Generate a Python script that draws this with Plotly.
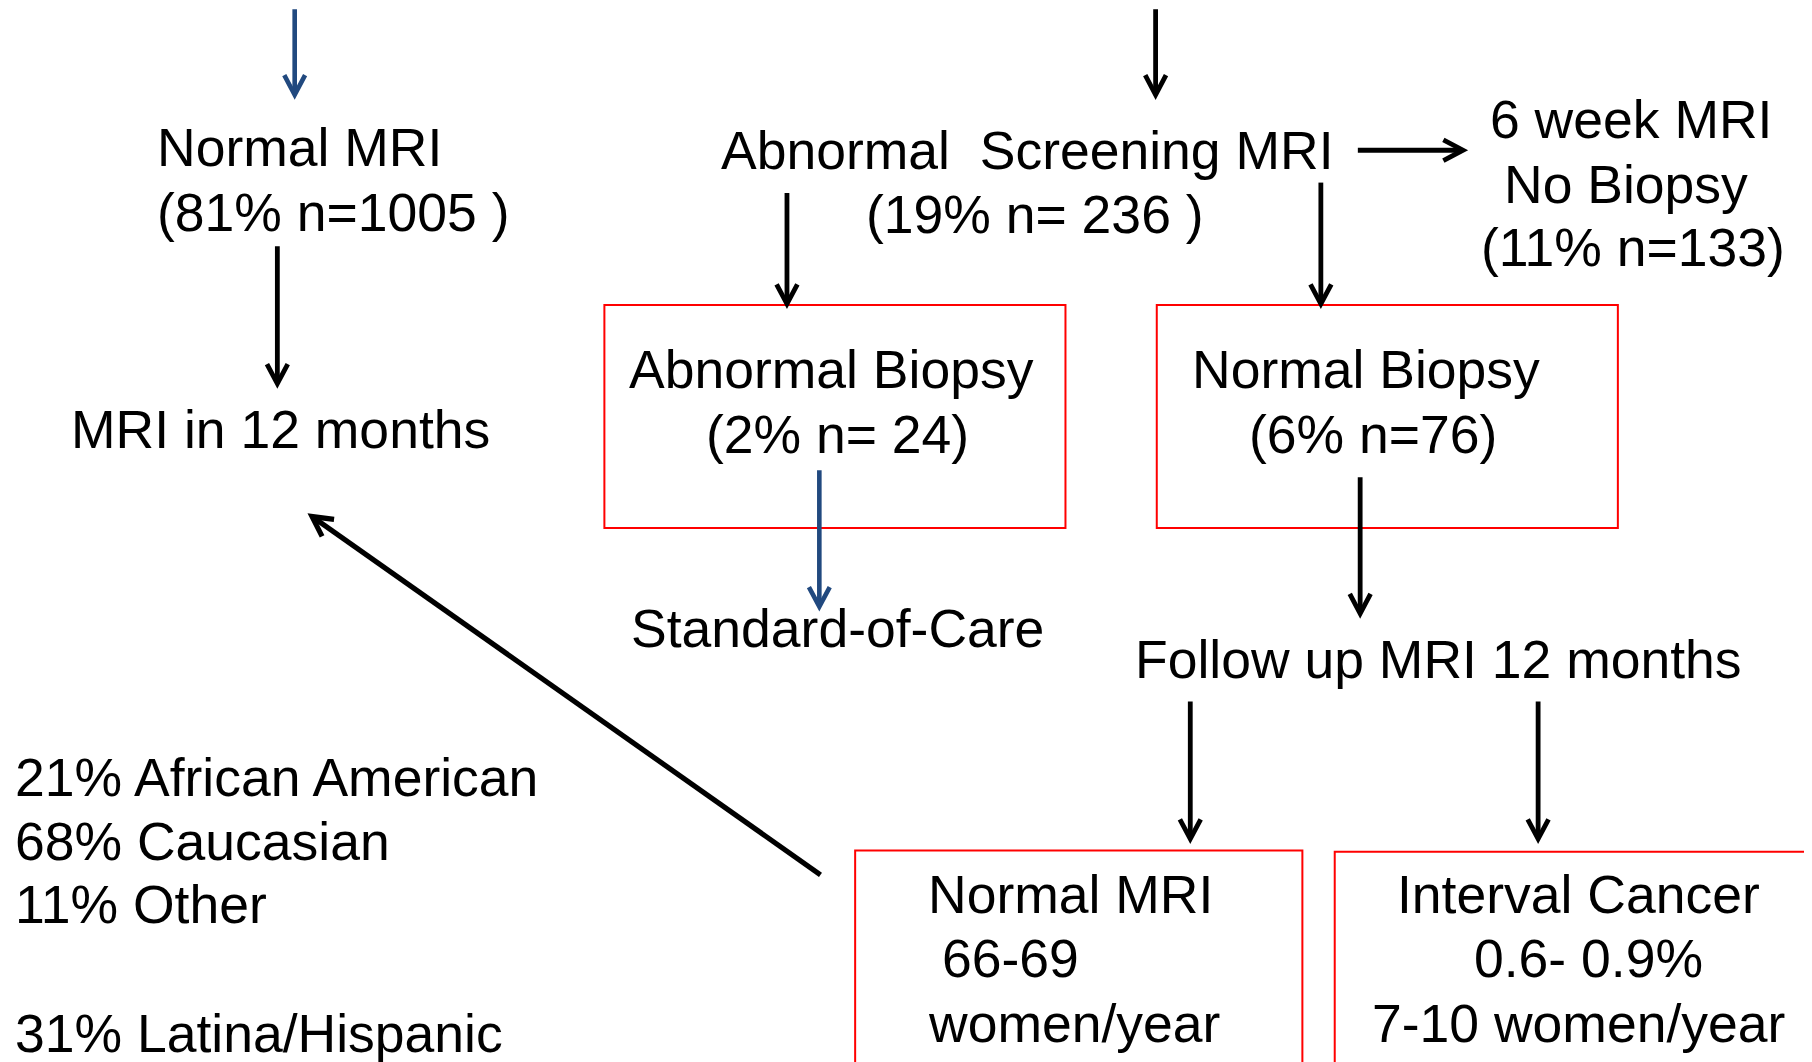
import math
import plotly.graph_objects as go

# ---- text content (data) ----
normal_mri = ["Normal MRI", "(81% n=1005 )"]
followup_normal = ["MRI in 12 months"]
abnormal_mri = ["Abnormal\u00a0 Screening MRI", "(19% n= 236 )"]
six_week = ["6 week MRI", "No Biopsy", "(11% n=133)"]
abnormal_biopsy = ["Abnormal Biopsy", "(2% n= 24)"]
normal_biopsy = ["Normal Biopsy", "(6% n=76)"]
standard_care = ["Standard-of-Care"]
followup_12 = ["Follow up MRI 12 months"]
box_normal_mri = ["Normal MRI", "66-69", "women/year"]
box_interval = ["Interval Cancer", "0.6- 0.9%", "7-10 women/year"]
race_lines = ["21% African American", "68% Caucasian", "11% Other", "31% Latina/Hispanic"]

# ---- layout positions (reference units: 1568 x 919 canvas) ----
W, H = 1568, 919
S = 1812 / 1568
OFF = 8 / S          # compensate the page's default body margin
FS = 46.3 * S
DX = -2.5

text_blocks = [
    (normal_mri, [137, 137], [128, 184]),
    (followup_normal, [62], [372]),
    (abnormal_mri, [625, 750], [130, 186]),
    (six_week, [1290, 1302, 1282], [103, 160, 214]),
    (abnormal_biopsy, [545, 612], [320, 376]),
    (normal_biopsy, [1032, 1082], [320, 376]),
    (standard_care, [547], [544]),
    (followup_12, [983], [571]),
    (box_normal_mri, [804, 816, 804], [774, 829, 886]),
    (box_interval, [1210, 1276, 1188], [774, 829, 886]),
    (race_lines, [14, 14, 14, 14], [673, 728, 783, 894]),
]

BLACK = "#000000"
BLUE = "#21497f"
RED = "#ff0000"

# arrows: (tail_x, tail_y, head_x, head_y, color, width)
arrows = [
    (255, 8, 255, 82, BLUE, 4.6),
    (240, 213, 240, 332, BLACK, 4.8),
    (1000, 8, 1000, 82, BLACK, 4.8),
    (1175, 130, 1266, 130, BLACK, 4.8),
    (681, 167, 681, 263, BLACK, 4.8),
    (1143, 158, 1143, 263, BLACK, 4.8),
    (709, 407, 709, 525, BLUE, 4.6),
    (1177, 413, 1177, 531, BLACK, 4.8),
    (1030, 607, 1030, 726, BLACK, 4.8),
    (1331, 607, 1331, 726, BLACK, 4.8),
    (710, 757, 270, 447, BLACK, 5.2),
]
HEAD_LEN = 17.0
HEAD_HALF = 9.0

# boxes: (x0, y0, x1, y1)
boxes = [
    (523, 264, 922, 457),
    (1001, 264, 1400, 457),
    (740, 736, 1127, 930),
    (1155, 737, 1563, 930),
]

fig = go.Figure()
fig.add_trace(go.Scatter(x=[0, W], y=[0, H], mode="markers",
                         marker=dict(opacity=0), hoverinfo="skip", showlegend=False))

shapes = []
for x0, y0, x1, y1 in boxes:
    shapes.append(dict(type="rect", xref="x", yref="y", x0=x0, y0=y0, x1=x1, y1=y1,
                       line=dict(color=RED, width=2.0), fillcolor="rgba(0,0,0,0)"))

for tx, ty, hx, hy, col, lw in arrows:
    dx, dy = hx - tx, hy - ty
    d = math.hypot(dx, dy)
    ux, uy = dx / d, dy / d
    px, py = -uy, ux
    bx, by = hx - ux * HEAD_LEN, hy - uy * HEAD_LEN
    a1 = (bx + px * HEAD_HALF, by + py * HEAD_HALF)
    a2 = (bx - px * HEAD_HALF, by - py * HEAD_HALF)
    sx, sy = hx - ux * 2.0, hy - uy * 2.0
    shapes.append(dict(type="line", xref="x", yref="y", x0=tx, y0=ty, x1=sx, y1=sy,
                       line=dict(color=col, width=lw)))
    shapes.append(dict(type="path", xref="x", yref="y",
                       path=f"M{a1[0]:.2f},{a1[1]:.2f} L{hx:.2f},{hy:.2f} L{a2[0]:.2f},{a2[1]:.2f}",
                       line=dict(color=col, width=lw), fillcolor="rgba(0,0,0,0)"))

annotations = []
for lines, xs, ys in text_blocks:
    for t, x, y in zip(lines, xs, ys):
        annotations.append(dict(x=x + DX, y=y, xref="x", yref="y", text=t, showarrow=False,
                                xanchor="left", yanchor="middle",
                                font=dict(family="Liberation Sans, Arial, sans-serif",
                                          size=FS, color="#000000")))

fig.update_layout(
    width=1812, height=1062,
    margin=dict(l=0, r=0, t=0, b=0),
    paper_bgcolor="white", plot_bgcolor="white",
    xaxis=dict(range=[OFF, W + OFF], visible=False, fixedrange=True),
    yaxis=dict(range=[H + OFF, OFF], visible=False, fixedrange=True),
    shapes=shapes, annotations=annotations, showlegend=False,
)

fig.write_html("out.html")
